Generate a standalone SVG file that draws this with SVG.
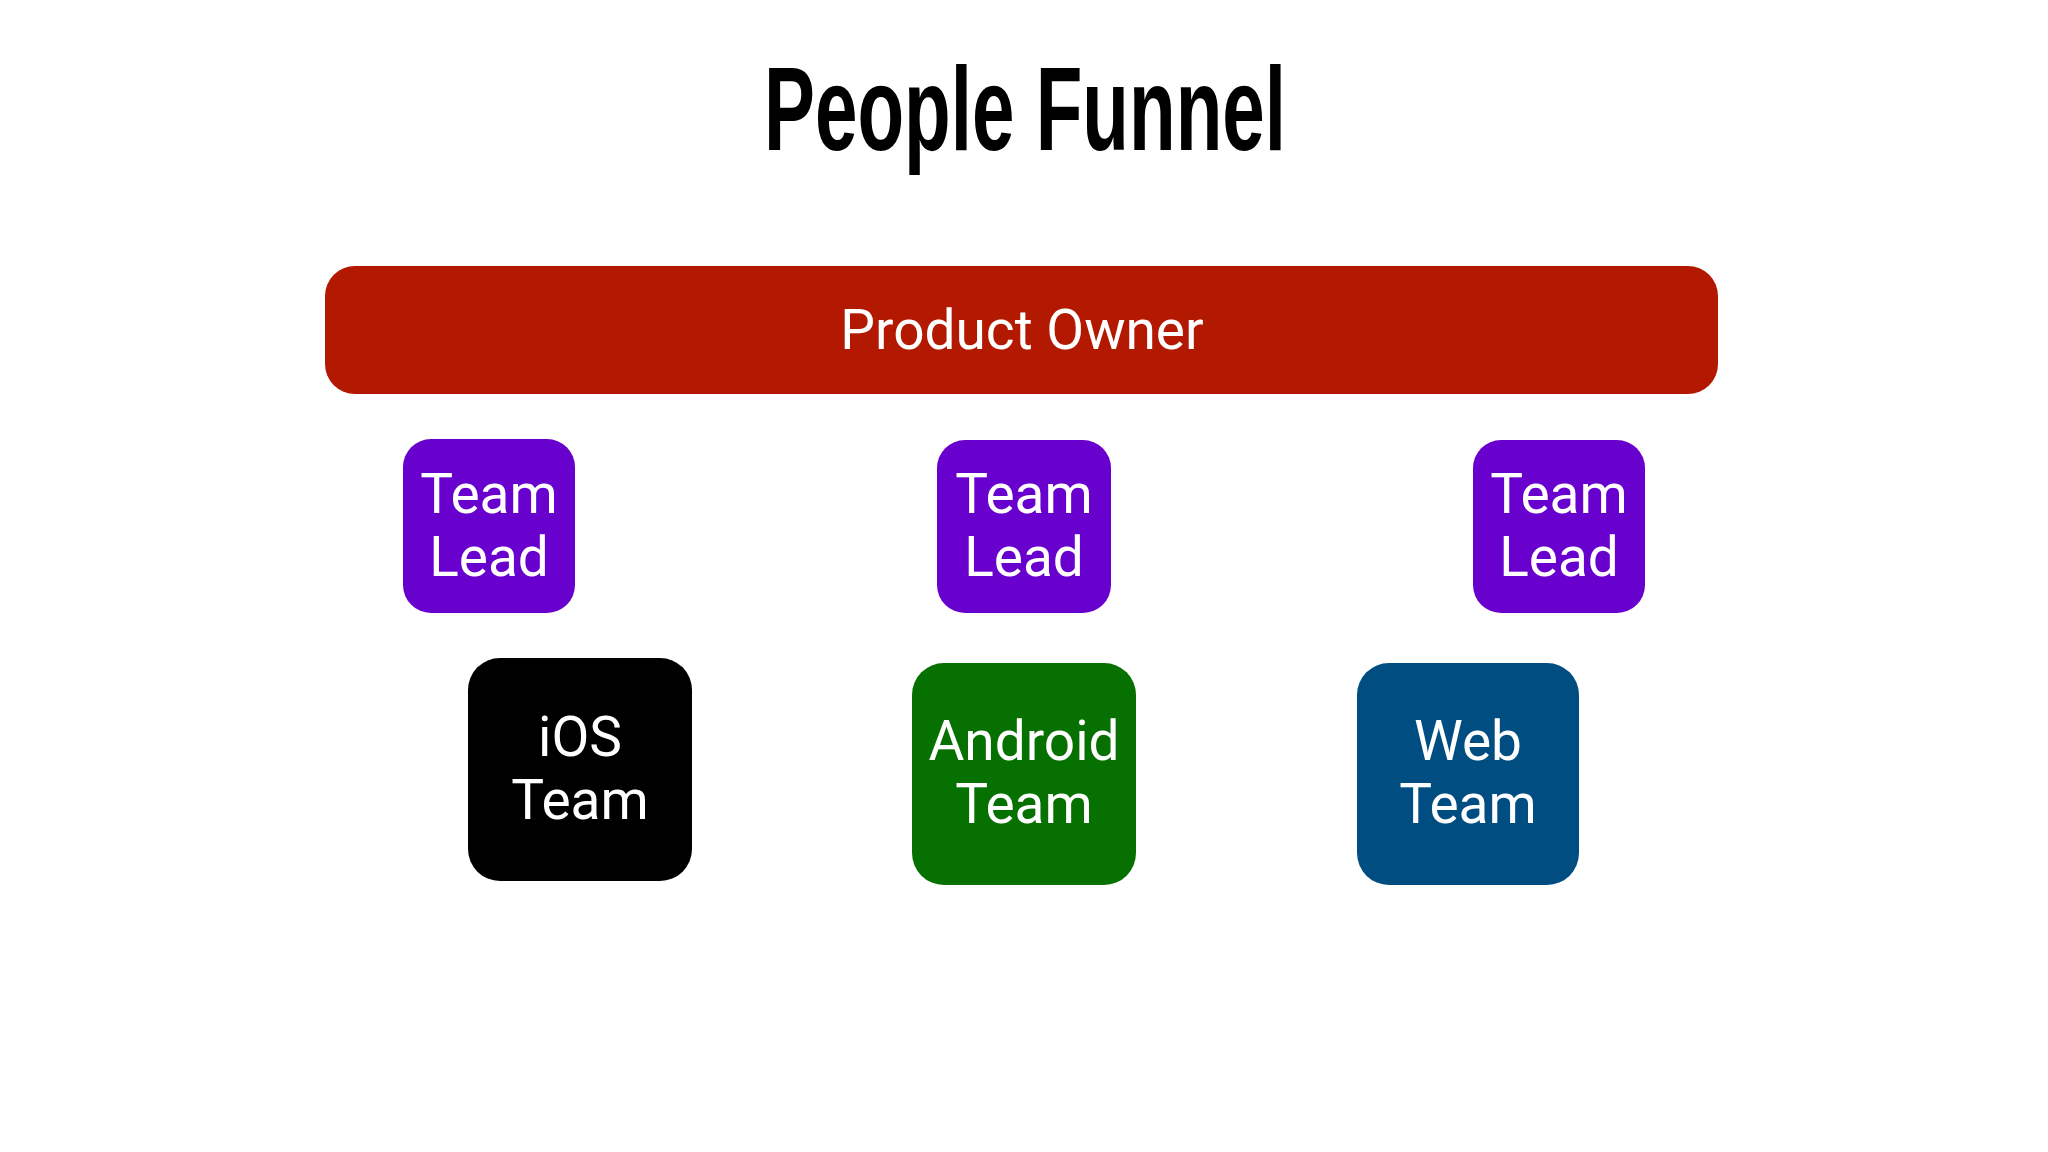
<svg xmlns="http://www.w3.org/2000/svg" width="2048" height="1152" viewBox="0 0 2048 1152">
<style>
.lbl{font-family:Roboto,"Liberation Sans",sans-serif;font-size:55px;fill:#ffffff;text-anchor:middle}
.title{font-family:"Liberation Sans","DejaVu Sans",sans-serif;font-weight:bold;font-size:119px;fill:#000000}
.lead{fill:#6800CE}
</style>
<rect x="0" y="0" width="2048" height="1152" fill="#ffffff"/>
<text class="title" x="764" y="150" textLength="522" lengthAdjust="spacingAndGlyphs">People Funnel</text>
<g id="connectors"/>
<g id="product-owner">
<rect x="325" y="266" width="1393" height="128" rx="30" ry="30" fill="#B31900"/>
<text class="lbl" x="1022" y="349">Product Owner</text>
</g>
<g id="team-lead-1">
<rect class="lead" x="403" y="439" width="172" height="174" rx="28" ry="28"/>
<text class="lbl" x="489" y="513">Team</text>
<text class="lbl" x="489" y="576">Lead</text>
</g>
<g id="team-lead-2">
<rect class="lead" x="937" y="440" width="174" height="173" rx="28" ry="28"/>
<text class="lbl" x="1024" y="513">Team</text>
<text class="lbl" x="1024" y="576">Lead</text>
</g>
<g id="team-lead-3">
<rect class="lead" x="1473" y="440" width="172" height="173" rx="28" ry="28"/>
<text class="lbl" x="1559" y="513">Team</text>
<text class="lbl" x="1559" y="576">Lead</text>
</g>
<g id="ios-team">
<rect x="468" y="658" width="224" height="223" rx="32" ry="32" fill="#000000"/>
<text class="lbl" x="580" y="756">iOS</text>
<text class="lbl" x="580" y="819">Team</text>
</g>
<g id="android-team">
<rect x="912" y="663" width="224" height="222" rx="32" ry="32" fill="#067000"/>
<text class="lbl" x="1024" y="760">Android</text>
<text class="lbl" x="1024" y="823">Team</text>
</g>
<g id="web-team">
<rect x="1357" y="663" width="222" height="222" rx="32" ry="32" fill="#004D82"/>
<text class="lbl" x="1468" y="760">Web</text>
<text class="lbl" x="1468" y="823">Team</text>
</g>
</svg>
